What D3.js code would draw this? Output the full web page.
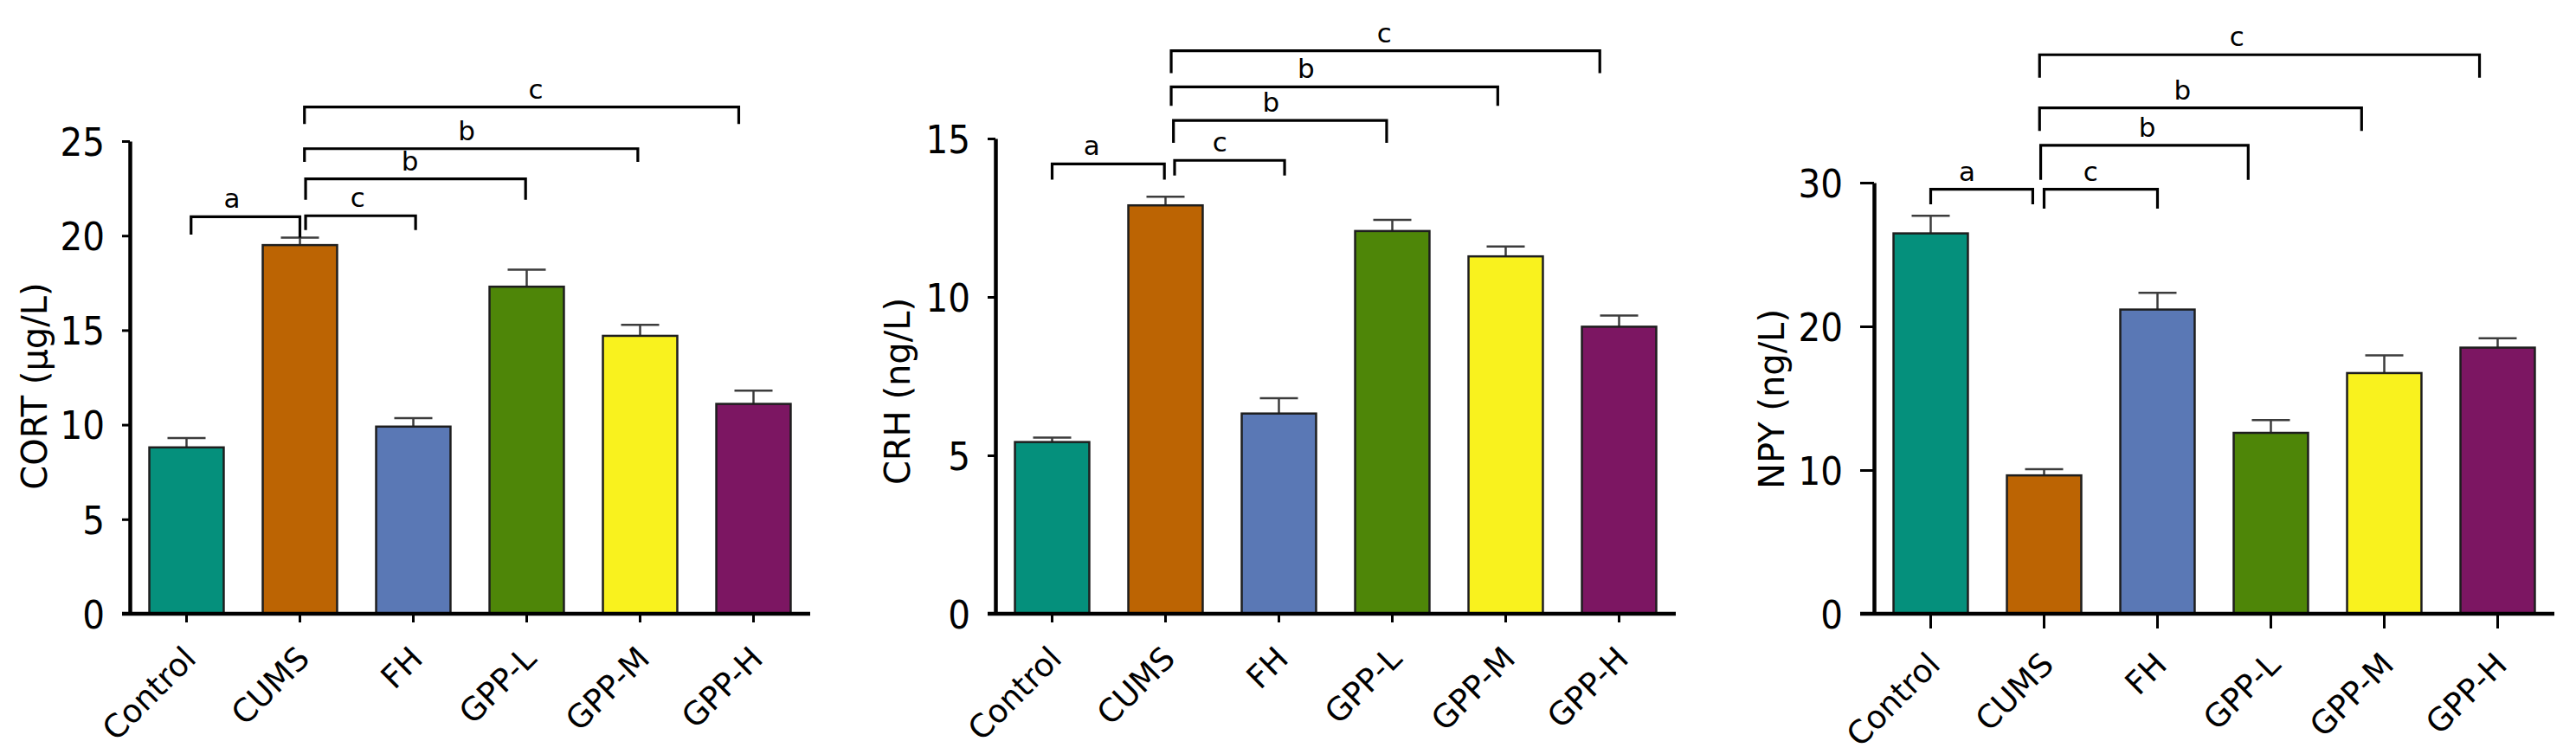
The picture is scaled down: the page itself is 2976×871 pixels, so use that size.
<!DOCTYPE html>
<html>
<head>
<meta charset="utf-8">
<script src="https://cdn.jsdelivr.net/npm/d3@7/dist/d3.min.js"></script>
<style>
  html, body { margin: 0; padding: 0; background: #fff; }
  svg { display: block; }
  .num { font-family: 'DejaVu Sans Condensed', 'DejaVu Sans', sans-serif; font-stretch: condensed; }
  .lbl { font-family: 'DejaVu Sans', sans-serif; }
</style>
</head>
<body>
<svg id="chart" width="2976" height="871"></svg>
<script>
/* ---------- Data ---------- */
const groups = ['Control', 'CUMS', 'FH', 'GPP-L', 'GPP-M', 'GPP-H'];
const groupColors = ['#05907c', '#bc6403', '#5a78b5', '#4e8608', '#f9f21e', '#7c1662'];

const cortMean = [8.8, 19.5, 9.9, 17.3, 14.7, 11.1];
const cortSem  = [0.5, 0.4, 0.45, 0.9, 0.58, 0.7];
const crhMean  = [5.42, 12.89, 6.32, 12.08, 11.28, 9.06];
const crhSem   = [0.14, 0.27, 0.48, 0.35, 0.31, 0.35];
const npyMean  = [26.47, 9.63, 21.17, 12.59, 16.75, 18.52];
const npySem   = [1.22, 0.43, 1.17, 0.89, 1.23, 0.65];

const cortTicks = [0, 5, 10, 15, 20, 25];
const crhTicks  = [0, 5, 10, 15];
const npyTicks  = [0, 10, 20, 30];

// significance brackets: ends in group-index units, heights in data units
const cortBrackets = [
  { from: 0.04, to: 1.00, y: 21.0,  dropFrom: 20.05, dropTo: 19.9,  label: 'a', labelAt: 0.40 },
  { from: 1.05, to: 2.02, y: 21.05, dropFrom: 20.3,  dropTo: 20.3,  label: 'c', labelAt: 1.51 },
  { from: 1.05, to: 2.99, y: 23.0,  dropFrom: 21.9,  dropTo: 21.9,  label: 'b', labelAt: 1.97 },
  { from: 1.04, to: 3.98, y: 24.6,  dropFrom: 23.9,  dropTo: 23.9,  label: 'b', labelAt: 2.47 },
  { from: 1.04, to: 4.87, y: 26.8,  dropFrom: 25.9,  dropTo: 25.9,  label: 'c', labelAt: 3.08 }
];
const crhBrackets = [
  { from: 0.00, to: 0.99, y: 14.2,  dropFrom: 13.7,  dropTo: 13.7,  label: 'a', labelAt: 0.35 },
  { from: 1.08, to: 2.05, y: 14.31, dropFrom: 13.83, dropTo: 13.83, label: 'c', labelAt: 1.48 },
  { from: 1.07, to: 2.95, y: 15.57, dropFrom: 14.86, dropTo: 14.86, label: 'b', labelAt: 1.93 },
  { from: 1.05, to: 3.93, y: 16.63, dropFrom: 16.03, dropTo: 16.03, label: 'b', labelAt: 2.24 },
  { from: 1.05, to: 4.83, y: 17.77, dropFrom: 17.06, dropTo: 17.06, label: 'c', labelAt: 2.93 }
];
const npyBrackets = [
  { from: 0.00, to: 0.90, y: 29.54, dropFrom: 28.5, dropTo: 28.5, label: 'a', labelAt: 0.32 },
  { from: 1.00, to: 2.00, y: 29.54, dropFrom: 28.2, dropTo: 28.2, label: 'c', labelAt: 1.41 },
  { from: 0.97, to: 2.80, y: 32.6,  dropFrom: 30.2, dropTo: 30.2, label: 'b', labelAt: 1.91 },
  { from: 0.96, to: 3.80, y: 35.2,  dropFrom: 33.6, dropTo: 33.6, label: 'b', labelAt: 2.22 },
  { from: 0.96, to: 4.84, y: 38.9,  dropFrom: 37.3, dropTo: 37.3, label: 'c', labelAt: 2.70 }
];

/* ---------- Panels ---------- */
const svg = d3.select('#chart');
svg.append('rect').attr('width', 2976).attr('height', 871).attr('fill', '#fff');

const panels = [
  { title: 'CORT (\u03bcg/L)', mean: cortMean, sem: cortSem, ticks: cortTicks, brackets: cortBrackets,
    x0: 150, x1: 936, yTop: 163, tickLen: 9, titleX: 54, titleY: 446 },
  { title: 'CRH (ng/L)', mean: crhMean, sem: crhSem, ticks: crhTicks, brackets: crhBrackets,
    x0: 1150, x1: 1936, yTop: 160, tickLen: 9, titleX: 1051, titleY: 452 },
  { title: 'NPY (ng/L)', mean: npyMean, sem: npySem, ticks: npyTicks, brackets: npyBrackets,
    x0: 2165, x1: 2951, yTop: 211, tickLen: 16, titleX: 2061, titleY: 461 }
];

const yZero = 709;

panels.forEach(drawPanel);

function drawPanel(p) {
  const g = svg.append('g');

  const x = d3.scaleBand().domain(groups).range([p.x0, p.x1]).padding(0);
  const barW = x.bandwidth() * 0.656;
  const cx = d => x(d) + x.bandwidth() / 2;
  const idx = d3.scaleLinear().domain([0, groups.length - 1])
    .range([cx(groups[0]), cx(groups[groups.length - 1])]);
  const y = d3.scaleLinear().domain([0, d3.max(p.ticks)]).range([yZero, p.yTop]);

  const rows = groups.map((k, i) => ({ key: k, mean: p.mean[i], sem: p.sem[i], color: groupColors[i] }));

  // ---------- Error bars (upper only) ----------
  const err = g.append('g').attr('stroke', '#3c3c3c').attr('stroke-width', 2.5);
  err.selectAll('line.v').data(rows).join('line').attr('class', 'v')
    .attr('x1', d => cx(d.key)).attr('x2', d => cx(d.key))
    .attr('y1', d => y(d.mean)).attr('y2', d => y(d.mean + d.sem));
  err.selectAll('line.h').data(rows).join('line').attr('class', 'h')
    .attr('x1', d => cx(d.key) - 22).attr('x2', d => cx(d.key) + 22)
    .attr('y1', d => y(d.mean + d.sem)).attr('y2', d => y(d.mean + d.sem));

  // ---------- Bars ----------
  g.append('g').selectAll('rect').data(rows).join('rect')
    .attr('x', d => cx(d.key) - barW / 2)
    .attr('width', barW)
    .attr('y', d => y(d.mean))
    .attr('height', d => yZero - y(d.mean))
    .attr('fill', d => d.color)
    .attr('stroke', '#1e1e1e')
    .attr('stroke-width', 2.5);

  // ---------- Y axis ----------
  const yAxis = g.append('g')
    .attr('transform', `translate(${p.x0},0)`)
    .call(d3.axisLeft(y).tickValues(p.ticks).tickFormat(d3.format('d'))
      .tickSize(p.tickLen).tickSizeOuter(0).tickPadding(20));
  yAxis.select('.domain').attr('stroke', '#000').attr('stroke-width', 4.5);
  yAxis.selectAll('.tick line').attr('stroke', '#000').attr('stroke-width', 3);
  yAxis.selectAll('.tick text')
    .attr('class', 'num').attr('fill', '#000')
    .attr('font-size', 45).attr('dy', '0.36em');

  // ---------- X axis ----------
  const xAxis = g.append('g')
    .attr('transform', `translate(0,${yZero})`)
    .call(d3.axisBottom(x).tickSize(p.tickLen + 1).tickSizeOuter(0));
  xAxis.select('.domain')
    .attr('d', `M${p.x0 - p.tickLen},0H${p.x1}`)
    .attr('stroke', '#000').attr('stroke-width', 4.5);
  xAxis.selectAll('.tick line').attr('stroke', '#000').attr('stroke-width', 3);
  xAxis.selectAll('.tick text')
    .attr('class', 'lbl').attr('fill', '#000').attr('font-size', 37)
    .attr('text-anchor', 'end')
    .attr('x', 0).attr('y', 0).attr('dy', 0)
    .attr('transform', `translate(13,${p.tickLen + 45}) rotate(-45)`);

  // ---------- Title ----------
  g.append('text')
    .attr('class', 'lbl')
    .attr('transform', `translate(${p.titleX},${p.titleY}) rotate(-90)`)
    .attr('text-anchor', 'middle')
    .attr('font-size', 40)
    .attr('fill', '#000')
    .text(p.title);

  // ---------- Significance brackets ----------
  const br = g.append('g');
  br.selectAll('path').data(p.brackets).join('path')
    .attr('d', d => `M${idx(d.from)},${y(d.dropFrom)}V${y(d.y)}H${idx(d.to)}V${y(d.dropTo)}`)
    .attr('fill', 'none')
    .attr('stroke', '#000')
    .attr('stroke-width', 3.2);
  br.selectAll('text').data(p.brackets).join('text')
    .attr('class', 'lbl')
    .attr('x', d => idx(d.labelAt))
    .attr('y', d => y(d.y) - 10)
    .attr('text-anchor', 'middle')
    .attr('font-size', 31)
    .attr('fill', '#000')
    .text(d => d.label);
}
</script>
</body>
</html>
